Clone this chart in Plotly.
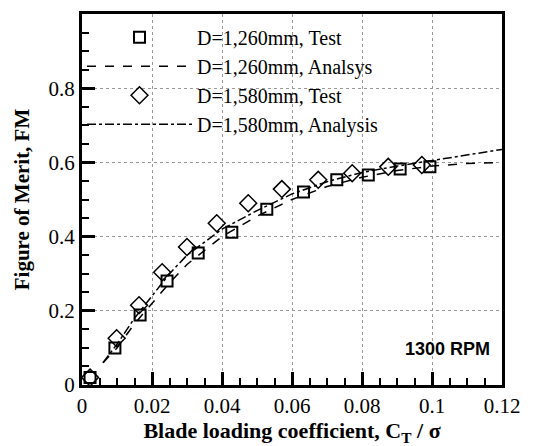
import plotly.graph_objects as go

# test data
ct_1260 = [0.0023, 0.0094, 0.0166, 0.0243, 0.0332, 0.0428, 0.0528, 0.0633, 0.0728, 0.0818, 0.0909, 0.0994]
fm_1260 = [0.02, 0.10, 0.189, 0.28, 0.356, 0.412, 0.474, 0.52, 0.553, 0.566, 0.582, 0.588]

ct_1580 = [0.0023, 0.0099, 0.0163, 0.0229, 0.0300, 0.0385, 0.0475, 0.0571, 0.0675, 0.0772, 0.0875, 0.0971]
fm_1580 = [0.02, 0.126, 0.215, 0.304, 0.372, 0.436, 0.49, 0.528, 0.553, 0.571, 0.588, 0.593]

# analysis curves
ct_an = [0.006, 0.01, 0.015, 0.02, 0.025, 0.03, 0.04, 0.05, 0.06, 0.07, 0.08, 0.09, 0.1, 0.11, 0.12]
fm_an_1260 = [0.06, 0.10, 0.165, 0.22, 0.275, 0.325, 0.40, 0.455, 0.50, 0.535, 0.56, 0.578, 0.59, 0.597, 0.60]
fm_an_1580 = [0.06, 0.11, 0.18, 0.24, 0.30, 0.35, 0.42, 0.47, 0.515, 0.548, 0.573, 0.59, 0.605, 0.62, 0.635]

serif = "Liberation Serif"

fig = go.Figure()
fig.add_trace(go.Scatter(x=ct_1260, y=fm_1260, mode='markers', name='D=1,260mm, Test',
                         marker=dict(symbol='square-open', size=11, color='black',
                                     line=dict(width=2, color='black'))))
fig.add_trace(go.Scatter(x=ct_an, y=fm_an_1260, mode='lines', name='D=1,260mm, Analsys',
                         line=dict(color='black', width=1.5, dash='dash')))
fig.add_trace(go.Scatter(x=ct_1580, y=fm_1580, mode='markers', name='D=1,580mm, Test',
                         marker=dict(symbol='diamond-open', size=13, color='black',
                                     line=dict(width=1.5, color='black'))))
fig.add_trace(go.Scatter(x=ct_an, y=fm_an_1580, mode='lines', name='D=1,580mm, Analysis',
                         line=dict(color='black', width=1.5, dash='dashdot')))

fig.add_annotation(x=0.975, y=0.097, xref='paper', yref='paper', xanchor='right',
                   yanchor='middle', text='<b>1300 RPM</b>', showarrow=False,
                   font=dict(family='Liberation Sans', size=18, color='black'))

axis_common = dict(showline=True, linewidth=3, linecolor='black', mirror=True,
                   ticks='inside', ticklen=13, tickwidth=3, tickcolor='black',
                   showgrid=True, gridcolor='#999', griddash='dot', gridwidth=1,
                   zeroline=False, automargin=False,
                   tickfont=dict(family=serif, size=21, color='black'))

fig.update_xaxes(range=[0, 0.12], dtick=0.02, tickformat='~g',
                 minor=dict(dtick=0.005, ticks='inside', ticklen=7, tickwidth=1.5,
                            tickcolor='black', showgrid=False),
                 title=dict(text='<b>Blade loading coefficient, C<sub>T</sub> / σ</b>',
                            font=dict(family=serif, size=22, color='black'), standoff=0),
                 **axis_common)
fig.update_yaxes(range=[0, 1], dtick=0.2, tickformat='~g',
                 minor=dict(dtick=0.05, ticks='inside', ticklen=7, tickwidth=1.5,
                            tickcolor='black', showgrid=False),
                 title=dict(text='<b>Figure of Merit, FM</b>',
                            font=dict(family=serif, size=21, color='black'), standoff=14),
                 **axis_common)

# the page adds an 8px body margin, so the margins are shifted by that much
fig.update_layout(width=542, height=446, plot_bgcolor='white', paper_bgcolor='white',
                  margin=dict(l=74, r=48, t=6, b=69),
                  legend=dict(x=0.0, y=0.99, xanchor='left', yanchor='top',
                              bgcolor='rgba(0,0,0,0)', itemwidth=105,
                              font=dict(family=serif, size=20, color='black'),
                              tracegroupgap=0),
                  showlegend=True)

fig.write_html("out.html")
